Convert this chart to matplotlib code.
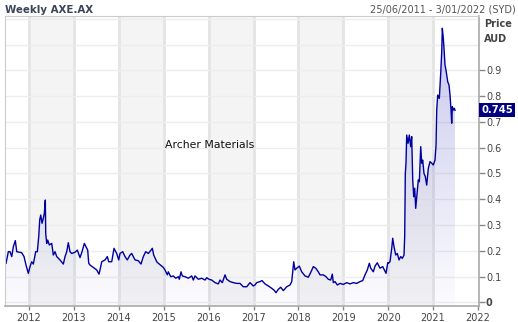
import numpy as np
import matplotlib
matplotlib.use("Agg")
import matplotlib.pyplot as plt
import matplotlib.transforms as mtransforms

# weekly closes (decimal year, AUD)
years = [
    2011.488, 2011.539, 2011.577, 2011.615, 2011.650, 2011.695, 2011.726, 2011.837,
    2011.889, 2011.933, 2011.984, 2012.022, 2012.060, 2012.096, 2012.149, 2012.185,
    2012.216, 2012.238, 2012.261, 2012.290, 2012.318, 2012.341, 2012.363, 2012.372,
    2012.394, 2012.416, 2012.452, 2012.506, 2012.541, 2012.579, 2012.617, 2012.690,
    2012.764, 2012.802, 2012.840, 2012.875, 2012.913, 2012.951, 2013.024, 2013.076,
    2013.136, 2013.180, 2013.232, 2013.269, 2013.307, 2013.330, 2013.359, 2013.432,
    2013.508, 2013.559, 2013.581, 2013.619, 2013.693, 2013.744, 2013.775, 2013.842,
    2013.893, 2013.953, 2013.998, 2014.027, 2014.087, 2014.138, 2014.189, 2014.249,
    2014.287, 2014.361, 2014.434, 2014.494, 2014.546, 2014.599, 2014.657, 2014.717,
    2014.746, 2014.777, 2014.844, 2014.880, 2014.955, 2014.991, 2015.029, 2015.080,
    2015.102, 2015.156, 2015.214, 2015.267, 2015.325, 2015.347, 2015.385, 2015.414,
    2015.474, 2015.548, 2015.624, 2015.659, 2015.697, 2015.771, 2015.846, 2015.920,
    2015.958, 2016.009, 2016.069, 2016.143, 2016.216, 2016.254, 2016.305, 2016.365,
    2016.403, 2016.477, 2016.550, 2016.626, 2016.699, 2016.773, 2016.849, 2016.922,
    2016.996, 2017.033, 2017.071, 2017.145, 2017.189, 2017.256, 2017.330, 2017.405,
    2017.457, 2017.501, 2017.552, 2017.606, 2017.664, 2017.739, 2017.813, 2017.851,
    2017.873, 2017.895, 2017.924, 2017.962, 2018.020, 2018.073, 2018.147, 2018.221,
    2018.281, 2018.332, 2018.385, 2018.443, 2018.481, 2018.555, 2018.615, 2018.666,
    2018.719, 2018.755, 2018.777, 2018.815, 2018.866, 2018.927, 2019.000, 2019.076,
    2019.149, 2019.223, 2019.298, 2019.372, 2019.432, 2019.483, 2019.534, 2019.579,
    2019.610, 2019.668, 2019.706, 2019.757, 2019.817, 2019.878, 2019.951, 2019.989,
    2020.002, 2020.040, 2020.078, 2020.100, 2020.129, 2020.167, 2020.203, 2020.241,
    2020.278, 2020.314, 2020.352, 2020.367, 2020.381, 2020.396, 2020.412, 2020.441,
    2020.470, 2020.501, 2020.523, 2020.546, 2020.568, 2020.590, 2020.612, 2020.635,
    2020.670, 2020.693, 2020.708, 2020.724, 2020.746, 2020.768, 2020.797, 2020.826,
    2020.857, 2020.893, 2020.931, 2020.969, 2021.004, 2021.042, 2021.065, 2021.080,
    2021.102, 2021.138, 2021.169, 2021.192, 2021.205, 2021.227, 2021.243, 2021.265,
    2021.287, 2021.303, 2021.325, 2021.354, 2021.377, 2021.399, 2021.414, 2021.428,
    2021.450, 2021.472, 2021.488,
]
prices = [
    0.152, 0.197, 0.197, 0.178, 0.216, 0.240, 0.197, 0.193,
    0.178, 0.145, 0.113, 0.139, 0.158, 0.149, 0.197, 0.197,
    0.255, 0.320, 0.339, 0.307, 0.326, 0.346, 0.397, 0.268,
    0.229, 0.242, 0.223, 0.229, 0.184, 0.197, 0.178, 0.165,
    0.149, 0.178, 0.197, 0.232, 0.197, 0.190, 0.195, 0.203,
    0.174, 0.197, 0.229, 0.216, 0.203, 0.152, 0.145, 0.136,
    0.126, 0.110, 0.126, 0.158, 0.165, 0.178, 0.158, 0.158,
    0.210, 0.190, 0.165, 0.190, 0.197, 0.178, 0.165, 0.184,
    0.190, 0.165, 0.162, 0.149, 0.178, 0.197, 0.190, 0.203,
    0.210, 0.184, 0.158, 0.152, 0.141, 0.136, 0.126, 0.107,
    0.119, 0.100, 0.103, 0.094, 0.100, 0.090, 0.119, 0.103,
    0.100, 0.094, 0.103, 0.087, 0.103, 0.090, 0.094, 0.087,
    0.096, 0.090, 0.087, 0.077, 0.072, 0.087, 0.077, 0.107,
    0.090, 0.081, 0.077, 0.074, 0.074, 0.061, 0.061, 0.077,
    0.064, 0.068, 0.077, 0.081, 0.085, 0.072, 0.064, 0.055,
    0.048, 0.038, 0.051, 0.059, 0.046, 0.061, 0.068, 0.081,
    0.119, 0.158, 0.126, 0.133, 0.141, 0.119, 0.103, 0.098,
    0.119, 0.139, 0.133, 0.119, 0.107, 0.107, 0.100, 0.090,
    0.087, 0.110, 0.077, 0.081, 0.068, 0.074, 0.070, 0.077,
    0.072, 0.077, 0.074, 0.081, 0.085, 0.107, 0.126, 0.152,
    0.133, 0.119, 0.141, 0.154, 0.133, 0.139, 0.113, 0.154,
    0.152, 0.158, 0.210, 0.249, 0.216, 0.184, 0.190, 0.165,
    0.178, 0.171, 0.184, 0.255, 0.500, 0.540, 0.649, 0.617,
    0.649, 0.604, 0.643, 0.475, 0.410, 0.443, 0.365, 0.410,
    0.475, 0.468, 0.533, 0.604, 0.540, 0.552, 0.500, 0.488,
    0.455, 0.520, 0.546, 0.540, 0.533, 0.552, 0.610, 0.746,
    0.804, 0.791, 0.888, 0.972, 1.063, 1.024, 0.985, 0.920,
    0.901, 0.882, 0.856, 0.843, 0.804, 0.746, 0.695, 0.759,
    0.746, 0.753, 0.745,
]
year_ticks = list(range(2012, 2023))
price_ticks = [0, 0.1, 0.2, 0.3, 0.4, 0.5, 0.6, 0.7, 0.8, 0.9]
grid_levels = [0, 0.1, 0.2, 0.3, 0.4, 0.5, 0.6, 0.7, 0.8, 0.9, 1.0, 1.1]
last_price = 0.745

plt.rcParams['font.family'] = ['DejaVu Sans']

W, H = 518, 322
fig = plt.figure(figsize=(W / 100, H / 100), dpi=100)
ax = fig.add_axes([5 / W, 1 - 306 / H, 474 / W, 290 / H])

# alternating year bands and separators
for yr in year_ticks[:-1:2]:
    ax.axvspan(yr, yr + 1, color='#f4f4f4', lw=0, zorder=0)
for yr in year_ticks[:-1]:
    ax.axvline(yr, color='#e4e4e4', lw=2, zorder=0.5)
for lv in grid_levels:
    ax.axhline(lv, color='#ededed', lw=1, zorder=0.6)

# gradient fill under the price line
ymin, ymax = -0.0136, 1.1105
poly = ax.fill_between(years, prices, ymin, color='none', lw=0)
g = np.linspace(0, 1, 256).reshape(-1, 1)
rgba = np.zeros((256, 1, 4))
rgba[..., 0] = 0.40
rgba[..., 1] = 0.40
rgba[..., 2] = 0.80
rgba[..., 3] = 0.02 + 0.34 * g
im = ax.imshow(rgba, extent=[years[0], years[-1], ymin, max(prices)],
               origin='lower', aspect='auto', zorder=1, interpolation='bilinear')
im.set_clip_path(poly.get_paths()[0], transform=ax.transData)

ax.plot(years, prices, color='#0000a0', lw=1, zorder=2)

ax.set_xlim(2011.465, 2022.022)
ax.set_ylim(ymin, ymax)

ax.set_xticks(year_ticks)
ax.set_xticklabels([str(y) for y in year_ticks])
ax.yaxis.tick_right()
ax.set_yticks(price_ticks)
ax.set_yticklabels(['0' if p == 0 else f'{p:.1f}' for p in price_ticks])
ax.tick_params(axis='x', length=3, width=1, color='#888888', labelsize=7,
               labelcolor='#444444', pad=2)
ax.tick_params(axis='y', length=4, width=1, color='#888888', labelsize=7,
               labelcolor='#444444', pad=1)
ax.get_yticklabels()[0].set_fontweight('bold')

for side in ['left', 'top']:
    ax.spines[side].set_color('#cccccc')
for side in ['right', 'bottom']:
    ax.spines[side].set_color('#aaaaaa')
    ax.spines[side].set_linewidth(1.2)

ax.text(0.337, 0.555, 'Archer Materials', transform=ax.transAxes,
        fontsize=7.8, color='#111111', va='center')

trans = mtransforms.blended_transform_factory(ax.transAxes, ax.transData)
ax.text(1.005, last_price, f'{last_price:.3f}', transform=trans, ha='left',
        va='center', color='white', fontsize=7.2, fontweight='bold',
        bbox=dict(boxstyle='square,pad=0.2', fc='#000080', ec='none'))

fig.text(5 / W, 1 - 10 / H, 'Weekly AXE.AX', fontsize=7.4, fontweight='bold',
         color='#3a4658', va='center', ha='left')
fig.text(516 / W, 1 - 10 / H, '25/06/2011 - 3/01/2022 (SYD)', fontsize=7,
         color='#555555', va='center', ha='right')
fig.text(484 / W, 1 - 24 / H, 'Price', fontsize=7, fontweight='bold',
         color='#444444', va='center', ha='left')
fig.text(484 / W, 1 - 39 / H, 'AUD', fontsize=7, fontweight='bold',
         color='#444444', va='center', ha='left')

fig.savefig('out.png', dpi=100)
